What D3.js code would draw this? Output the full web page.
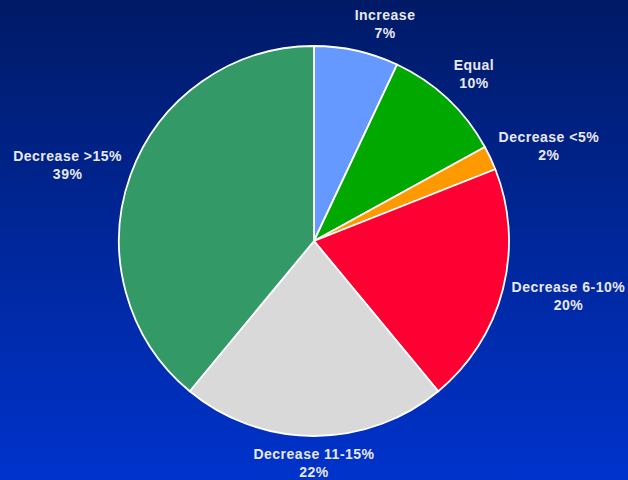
<!DOCTYPE html>
<html>
<head>
<meta charset="utf-8">
<script src="https://cdn.jsdelivr.net/npm/d3@7"></script>
<style>
  html, body { margin: 0; padding: 0; background: #001a66; }
  svg { display: block; }
</style>
</head>
<body>
<svg id="chart" width="628" height="480"></svg>
<script>
// Share of responses by change category
const categories = ["Increase", "Equal", "Decrease <5%", "Decrease 6-10%", "Decrease 11-15%", "Decrease >15%"];
const values = [7, 10, 2, 20, 22, 39];
const colors = ["#6699ff", "#00a800", "#ff9900", "#ff0033", "#d9d9d9", "#339966"];

const W = 628, H = 480;
const cx = 314, cy = 241, R = 195;
const svg = d3.select("#chart");

// vertical background gradient
const defs = svg.append("defs");
const grad = defs.append("linearGradient").attr("id", "bg").attr("x1", 0).attr("y1", 0).attr("x2", 0).attr("y2", 1);
grad.append("stop").attr("offset", "0%").attr("stop-color", "#001a66");
grad.append("stop").attr("offset", "100%").attr("stop-color", "#0033cc");
svg.append("rect").attr("width", W).attr("height", H).attr("fill", "url(#bg)");

const data = categories.map((c, i) => ({ name: c, value: values[i], color: colors[i] }));
const pie = d3.pie().value(d => d.value).sort(null);
const arc = d3.arc().innerRadius(0).outerRadius(R);
const arcs = pie(data);

const g = svg.append("g").attr("transform", `translate(${cx},${cy})`);
g.selectAll("path").data(arcs).join("path")
  .attr("d", arc)
  .attr("fill", d => d.data.color)
  .attr("stroke", "#ffffff")
  .attr("stroke-width", 1.8)
  .attr("stroke-linejoin", "round");

// labels: placed outside the rim, box pushed away from the pie along the mid angle
const fontSize = 14, lineH = 18;
const measure = svg.append("text")
  .attr("font-family", "Liberation Sans, Arial, sans-serif")
  .attr("font-weight", "bold").attr("font-size", fontSize)
  .attr("letter-spacing", 0.5).attr("visibility", "hidden");
function textWidth(s) { measure.text(s); return measure.node().getComputedTextLength(); }

const rA = R + 9;
const clamp = v => Math.max(-1, Math.min(1, v));
const labels = svg.append("g");
arcs.forEach(d => {
  const a = (d.startAngle + d.endAngle) / 2;
  const dx = Math.sin(a), dy = -Math.cos(a);
  const pct = d3.format(".0%")(d.data.value / d3.sum(values));
  const hw = Math.max(textWidth(d.data.name), textWidth(pct)) / 2;
  const hh = lineH;
  const t = 1 / Math.max(Math.abs(dx), Math.abs(dy));
  const x = cx + rA * dx + clamp(dx * 4) * hw;
  const y = cy + rA * dy + dy * t * hh;
  const txt = labels.append("text")
    .attr("text-anchor", "middle")
    .attr("font-family", "Liberation Sans, Arial, sans-serif")
    .attr("font-weight", "bold").attr("font-size", fontSize)
    .attr("letter-spacing", 0.5)
    .attr("fill", "#e8e8f0");
  txt.append("tspan").attr("x", x).attr("y", y - 4).text(d.data.name);
  txt.append("tspan").attr("x", x).attr("y", y + 14).text(pct);
});
measure.remove();
</script>
</body>
</html>
